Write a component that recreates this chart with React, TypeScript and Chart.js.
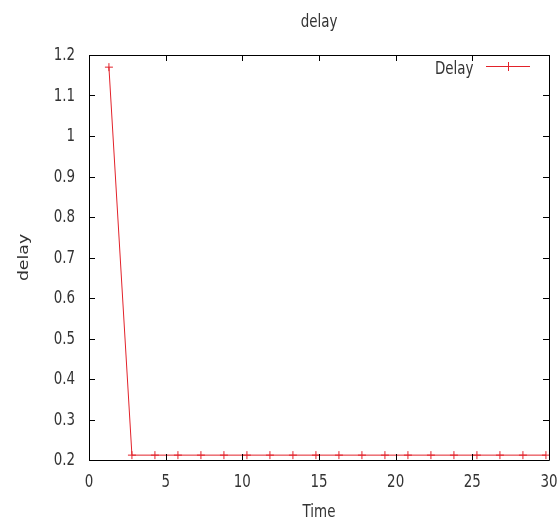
import React, { useEffect, useRef } from "react";
import { Chart, registerables } from "chart.js";

Chart.register(...registerables);

const timeValues = [1.3, 2.8, 4.3, 5.8, 7.3, 8.8, 10.3, 11.8, 13.3, 14.8, 16.3, 17.8, 19.3, 20.8, 22.3, 23.8, 25.3, 26.8, 28.3, 29.8];
const delayValues = [1.17, 0.212, 0.212, 0.212, 0.212, 0.212, 0.212, 0.212, 0.212, 0.212, 0.212, 0.212, 0.212, 0.212, 0.212, 0.212, 0.212, 0.212, 0.212, 0.212];
const xTicks = [0, 5, 10, 15, 20, 25, 30];
const yTicks = [0.2, 0.3, 0.4, 0.5, 0.6, 0.7, 0.8, 0.9, 1, 1.1, 1.2];
const chartTitle = "delay";
const xTitle = "Time";
const yTitle = "delay";
const seriesName = "Delay";

const RED = "rgb(226,34,42)";
const FONT = "DejaVu Sans";
const TEXT = "#333";
const SX = 0.84;
const SY = 1.08;

function drawText(ctx: any, text: string, x: number, y: number, align: string, rotate = false) {
  ctx.save();
  ctx.translate(x, y);
  if (rotate) {
    ctx.rotate(-Math.PI / 2);
    ctx.scale(SY, SX);
  } else {
    ctx.scale(SX, SY);
  }
  ctx.textAlign = align;
  ctx.textBaseline = "alphabetic";
  ctx.fillText(text, 0, 0);
  ctx.restore();
}

const fmt = (v: number) => String(Number(Number(v).toFixed(1)));

const decor = {
  id: "gnuplotDecor",
  afterDraw(chart: any) {
    const ctx = chart.ctx;
    const { left, right, top, bottom } = chart.chartArea;
    const xs = chart.scales.x;
    const ys = chart.scales.y;
    ctx.save();
    ctx.strokeStyle = "#000";
    ctx.lineWidth = 1;
    ctx.beginPath();
    ctx.rect(Math.round(left) + 0.5, Math.round(top) + 0.5, Math.round(right - left), Math.round(bottom - top));
    ctx.stroke();
    const tl = 6;
    ctx.beginPath();
    xs.ticks.forEach((t: any) => {
      const px = Math.round(xs.getPixelForValue(t.value)) + 0.5;
      ctx.moveTo(px, bottom);
      ctx.lineTo(px, bottom - tl);
      ctx.moveTo(px, top);
      ctx.lineTo(px, top + tl);
    });
    ys.ticks.forEach((t: any) => {
      const py = Math.round(ys.getPixelForValue(t.value)) + 0.5;
      ctx.moveTo(left, py);
      ctx.lineTo(left + tl, py);
      ctx.moveTo(right, py);
      ctx.lineTo(right - tl, py);
    });
    ctx.stroke();

    ctx.fillStyle = TEXT;
    ctx.font = `16px "${FONT}"`;
    // tick labels
    xs.ticks.forEach((t: any) => {
      drawText(ctx, fmt(t.value), xs.getPixelForValue(t.value), 486.5, "center");
    });
    ys.ticks.forEach((t: any) => {
      drawText(ctx, fmt(t.value), 75, ys.getPixelForValue(t.value) + 5, "right");
    });
    // titles
    drawText(ctx, chartTitle, (left + right) / 2, 27, "center");
    drawText(ctx, xTitle, (left + right) / 2, 517, "center");
    drawText(ctx, yTitle, 28, (top + bottom) / 2, "center", true);

    // legend
    const ly = 66;
    drawText(ctx, seriesName, 473.5, 74, "right");
    ctx.strokeStyle = RED;
    ctx.beginPath();
    ctx.moveTo(486, ly + 0.5);
    ctx.lineTo(530, ly + 0.5);
    ctx.moveTo(508.5, ly - 4);
    ctx.lineTo(508.5, ly + 5);
    ctx.stroke();
    ctx.restore();
  },
};

export default function App() {
  const ref = useRef<HTMLCanvasElement>(null);
  useEffect(() => {
    document.body.style.margin = "0";
    const chart = new Chart(ref.current!, {
      type: "line",
      data: {
        datasets: [
          {
            label: seriesName,
            data: timeValues.map((t, i) => ({ x: t, y: delayValues[i] })),
            borderColor: RED,
            backgroundColor: RED,
            borderWidth: 1,
            pointStyle: "cross",
            pointRadius: 4,
            pointBorderWidth: 1,
            pointBorderColor: RED,
            tension: 0,
          },
        ],
      },
      options: {
        responsive: false,
        animation: false,
        layout: { padding: { top: 55, right: 9, left: 0, bottom: 0 } },
        plugins: { legend: { display: false }, title: { display: false }, tooltip: { enabled: false } },
        scales: {
          x: {
            type: "linear",
            min: 0,
            max: 30,
            grid: { display: false },
            border: { display: false },
            afterFit: (s: any) => { s.height = 60; s.paddingLeft = 0; s.paddingRight = 0; },
            afterBuildTicks: (s: any) => { s.ticks = xTicks.map((v) => ({ value: v })); },
            ticks: { display: false },
          },
          y: {
            type: "linear",
            min: 0.2,
            max: 1.2,
            grid: { display: false },
            border: { display: false },
            afterFit: (s: any) => { s.width = 89; s.paddingTop = 0; s.paddingBottom = 0; },
            afterBuildTicks: (s: any) => { s.ticks = yTicks.map((v) => ({ value: v })); },
            ticks: { display: false },
          },
        },
      },
      plugins: [decor],
    });
    return () => chart.destroy();
  }, []);
  return (
    <div style={{ width: 558, height: 520 }}>
      <canvas ref={ref} width={558} height={520} style={{ display: "block" }} />
    </div>
  );
}
